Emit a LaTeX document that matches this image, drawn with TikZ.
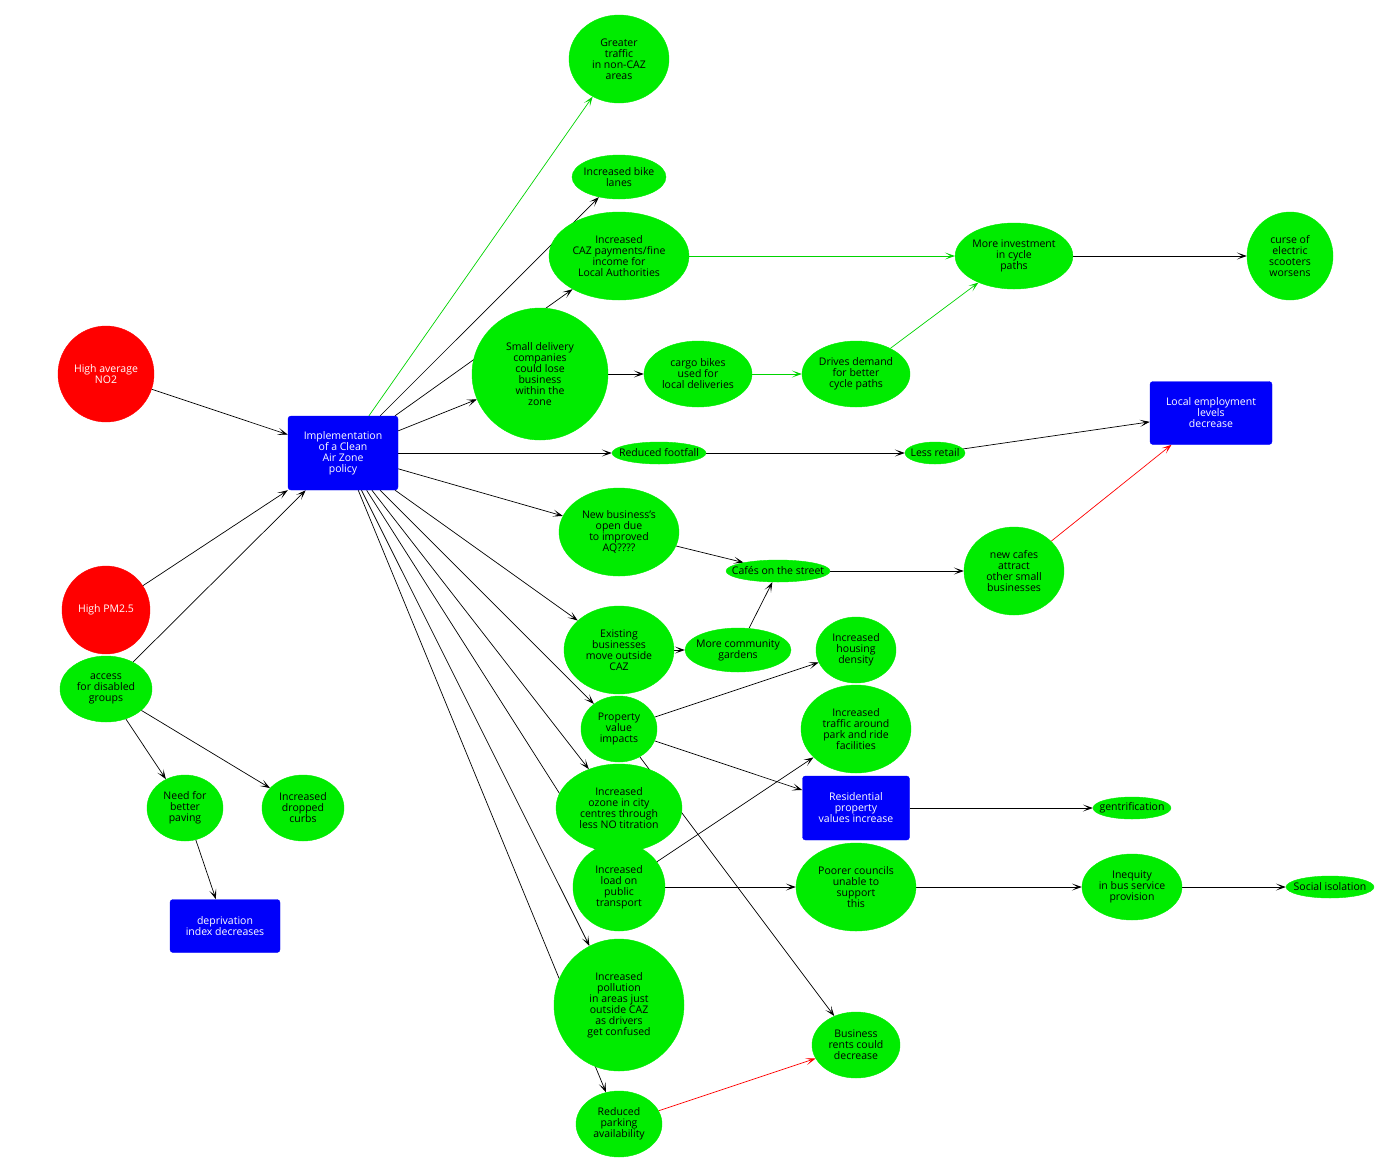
\documentclass[tikz,border=0pt]{standalone}
\usepackage{fontspec}
\setmainfont{Open Sans}
\usetikzlibrary{arrows.meta,shapes.geometric,backgrounds}
\definecolor{nodegreen}{RGB}{0,236,0}
\definecolor{nodered}{RGB}{255,0,0}
\definecolor{nodeblue}{RGB}{0,0,250}
\tikzset{
  el/.style    = {ellipse, fill=nodegreen, draw=nodegreen, align=center,
                  inner sep=0pt, font=\fontsize{10.5}{11}\selectfont},
  tight/.style = {inner xsep=-12pt, inner ysep=-4pt},
  hot/.style   = {ellipse, fill=nodered, draw=nodered, text=white, align=center,
                  inner sep=0pt, font=\fontsize{10.5}{11}\selectfont},
  box/.style   = {rectangle, rounded corners=3pt, fill=nodeblue, draw=nodeblue,
                  text=white, align=center, inner sep=0pt,
                  font=\fontsize{10.5}{11}\selectfont},
  flow/.style  = {-{Stealth[length=10pt,width=7pt,inset=5.5pt]}, line width=0.7pt},
  gflow/.style = {flow, draw=nodegreen!90!black},
  rflow/.style = {flow, draw=nodered},
}

\begin{document}
\begin{tikzpicture}[x=1pt, y=-1pt]
  \useasboundingbox (0,0) rectangle (1400,1168);
    % causes
    \node[hot, minimum width=96pt, minimum height=96pt] (no2) at (106,374) {High average\\NO2};
    \node[hot, minimum width=88pt, minimum height=88pt] (pm) at (106,610) {High PM2.5};
    \node[el, minimum width=92pt, minimum height=66pt] (access) at (106,689) {access\\for disabled\\groups};
    \node[box, minimum width=110pt, minimum height=74pt] (caz) at (343,453)
      {Implementation\\of a Clean\\Air Zone\\policy};

    % disabled access branch
    \node[el, minimum width=76pt, minimum height=66pt] (paving) at (185,808) {Need for\\better\\paving};
    \node[el, minimum width=82pt, minimum height=66pt] (curbs) at (303,808) {Increased\\dropped\\curbs};
    \node[box, minimum width=110pt, minimum height=53pt] (depriv) at (225,926) {deprivation\\index decreases};

    % upper branch
    \node[el, minimum width=100pt, minimum height=88pt] (traffic) at (619,59) {Greater\\traffic\\in non-CAZ\\areas};
    \node[el, tight, minimum width=94pt, minimum height=44pt] (bike) at (619,177) {Increased bike\\lanes};
    \node[el, minimum width=140pt, minimum height=88pt] (pay) at (619,256)
      {Increased\\CAZ payments/fine\\income for\\Local Authorities};
    \node[el, minimum width=136pt, minimum height=132pt] (small) at (540,374)
      {Small delivery\\companies\\could lose\\business\\within the\\zone};
    \node[el, minimum width=108pt, minimum height=66pt] (cargo) at (698,374) {cargo bikes\\used for\\local deliveries};
    \node[el, minimum width=108pt, minimum height=66pt] (drives) at (856,374) {Drives demand\\for better\\cycle paths};
    \node[el, minimum width=116pt, minimum height=66pt] (invest) at (1014,256) {More investment\\in cycle\\paths};
    \node[el, minimum width=86pt, minimum height=88pt] (scoot) at (1290,256) {curse of\\electric\\scooters\\worsens};

    % retail and employment
    \node[el, tight, minimum width=94pt, minimum height=22pt] (footfall) at (659,453) {Reduced footfall};
    \node[el, tight, minimum width=60pt, minimum height=22pt] (retail) at (935,453) {Less retail};
    \node[box, minimum width=122pt, minimum height=63pt] (employ) at (1211,413) {Local employment\\levels\\decrease};
    \node[el, minimum width=120pt, minimum height=88pt] (newbiz) at (619,532) {New business's\\open due\\to improved\\AQ????};
    \node[el, tight, minimum width=104pt, minimum height=22pt] (cafes) at (778,571) {Cafés on the street};
    \node[el, minimum width=100pt, minimum height=88pt] (newcafes) at (1014,571) {new cafes\\attract\\other small\\businesses};
    \node[el, minimum width=110pt, minimum height=88pt] (existing) at (619,650) {Existing\\businesses\\move outside\\CAZ};
    \node[el, tight, minimum width=106pt, minimum height=44pt] (gardens) at (738,650) {More community\\gardens};

    % property
    \node[el, minimum width=80pt, minimum height=66pt] (housing) at (856,650) {Increased\\housing\\density};
    \node[el, minimum width=76pt, minimum height=66pt] (property) at (619,729) {Property\\value\\impacts};
    \node[el, minimum width=110pt, minimum height=88pt] (parkride) at (856,729)
      {Increased\\traffic around\\park and ride\\facilities};
    \node[box, minimum width=107pt, minimum height=64pt] (resid) at (856,808) {Residential\\property\\values increase};
    \node[el, tight, minimum width=78pt, minimum height=22pt] (gentr) at (1132,808) {gentrification};

    % transport and pollution
    \node[el, minimum width=126pt, minimum height=88pt] (ozone) at (619,808)
      {Increased\\ozone in city\\centres through\\less NO titration};
    \node[el, minimum width=92pt, minimum height=88pt] (load) at (619,887) {Increased\\load on\\public\\transport};
    \node[el, minimum width=120pt, minimum height=88pt] (poorer) at (856,887) {Poorer councils\\unable to\\support\\this};
    \node[el, minimum width=100pt, minimum height=66pt] (inequity) at (1132,887) {Inequity\\in bus service\\provision};
    \node[el, tight, minimum width=88pt, minimum height=22pt] (social) at (1330,887) {Social isolation};
    \node[el, minimum width=130pt, minimum height=132pt] (pollution) at (619,1005)
      {Increased\\pollution\\in areas just\\outside CAZ\\as drivers\\get confused};
    \node[el, minimum width=88pt, minimum height=66pt] (rents) at (856,1045) {Business\\rents could\\decrease};
    \node[el, minimum width=86pt, minimum height=66pt] (parking) at (619,1124) {Reduced\\parking\\availability};

    \begin{scope}[on background layer]
    \draw[flow] (no2) -- (caz);
    \draw[flow] (pm) -- (caz.south west);
    \draw[flow] (access) -- (caz);
    \draw[flow] (access) -- (paving);
    \draw[flow] (access) -- (curbs);
    \draw[flow] (paving) -- (depriv);

    \draw[gflow] (caz) -- (traffic);
    \draw[flow] (caz) -- (bike);
    \draw[flow] (caz) -- (pay);
    \draw[flow] (caz) -- (small);
    \draw[flow] (caz) -- (footfall);
    \draw[flow] (caz) -- (newbiz);
    \draw[flow] (caz) -- (existing);
    \draw[flow] (caz) -- (property);
    \draw[flow] (caz) -- (ozone);
    \draw[flow] (caz) -- (load);
    \draw[flow] (caz) -- (pollution);
    \draw[flow] (caz) -- (parking);

    \draw[gflow] (pay) -- (invest);
    \draw[flow] (small) -- (cargo);
    \draw[gflow] (cargo) -- (drives);
    \draw[gflow] (drives) -- (invest);
    \draw[flow] (invest) -- (scoot);

    \draw[flow] (footfall) -- (retail);
    \draw[flow] (retail) -- (employ);
    \draw[flow] (newbiz) -- (cafes);
    \draw[flow] (existing) -- (gardens);
    \draw[flow] (gardens) -- (cafes);
    \draw[flow] (cafes) -- (newcafes);
    \draw[rflow] (newcafes) -- (employ);

    \draw[flow] (property) -- (housing);
    \draw[flow] (property) -- (resid);
    \draw[flow] (property) -- (rents);
    \draw[flow] (resid) -- (gentr);
    \draw[flow] (load) -- (parkride);
    \draw[flow] (load) -- (poorer);
    \draw[flow] (poorer) -- (inequity);
    \draw[flow] (inequity) -- (social);
    \draw[rflow] (parking) -- (rents);
    \end{scope}
  \end{tikzpicture}
\end{document}
